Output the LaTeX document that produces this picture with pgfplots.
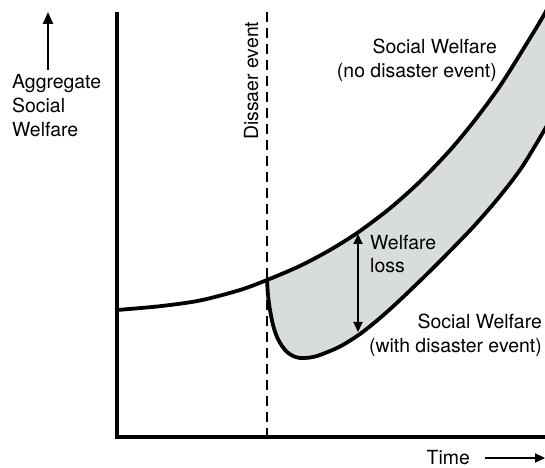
\documentclass[border=0pt]{standalone}
\usepackage{pgfplots}
\pgfplotsset{compat=1.18}
\usepgfplotslibrary{fillbetween}
\usetikzlibrary{arrows.meta}
\usepackage{fontspec}
\setmainfont{TeX Gyre Heros}
\definecolor{bandfill}{RGB}{216,221,219}
\tikzset{lbl/.style={font=\fontsize{19.5}{24}\selectfont, inner sep=0pt}}
\begin{document}
\begin{tikzpicture}
\begin{axis}[
  scale only axis, width=545bp, height=468bp,
  xmin=0, xmax=545, ymin=0, ymax=468, y dir=reverse,
  hide axis, clip=false,
]
% shaded band
\addplot[name path=upA, draw=none, smooth, tension=0.5, forget plot] coordinates {
 (267,280) (300,265.9) (330,250) (358,232.4) (390,208.3) (420,181.5)
 (450,150.2) (475,120) (500,86) (525,46.3) (545,13) (555,-8)};
\addplot[name path=low, draw=none, smooth, tension=0.5, forget plot] coordinates {
 (267,280) (268,295) (270,310) (273,325) (277,337) (282,346) (287,352) (293,356)
 (300,358) (310,357.5) (320,355) (340,346.5) (360,334) (380,318) (400,300) (425,276)
 (450,251) (475,225) (500,196) (522,167) (545,129) (555,110)};
\addplot[fill=bandfill, draw=none, forget plot] fill between[of=upA and low];
% curves
\addplot[black, line width=3.8bp, smooth, tension=0.5] coordinates {
 (117,310) (160,306.2) (200,300.5) (240,290) (267,280) (300,265.9) (330,250)
 (358,232.4) (390,208.3) (420,181.5) (450,150.2) (475,120) (500,86) (525,46.3)
 (545,13) (555,-8)};
\addplot[black, line width=3.8bp, smooth, tension=0.5] coordinates {
 (267,280) (268,295) (270,310) (273,325) (277,337) (282,346) (287,352) (293,356)
 (300,358) (310,357.5) (320,355) (340,346.5) (360,334) (380,318) (400,300) (425,276)
 (450,251) (475,225) (500,196) (522,167) (545,129) (555,110)};
% dashed disaster line
\addplot[black, line width=2.4bp, dash pattern=on 10bp off 6bp] coordinates {(267,12) (267,437)};
% axes
\addplot[black, line width=4.5bp] coordinates {(117,12) (117,437) (550,437)};
% welfare loss arrow
\addplot[black, line width=2bp, {Triangle[width=9bp,length=10bp]}-{Triangle[width=9bp,length=10bp]}] coordinates {(358,234) (358,332)};
% y arrow
\addplot[black, line width=2.5bp, -{Triangle[width=10bp,length=12bp]}] coordinates {(48,70) (48,12)};
% time arrow
\addplot[black, line width=2.2bp, -{Triangle[width=9bp,length=10bp]}] coordinates {(485,458) (545,458)};
% labels
\node[lbl, anchor=base west] at (axis cs:12,89) {Aggregate};
\node[lbl, anchor=base west] at (axis cs:12,113) {Social};
\node[lbl, anchor=base west] at (axis cs:12,137) {Welfare};
\node[lbl, anchor=base east] at (axis cs:497,54) {Social Welfare};
\node[lbl, anchor=base east] at (axis cs:497,78) {(no disaster event)};
\node[lbl, anchor=base east] at (axis cs:542,329) {Social Welfare};
\node[lbl, anchor=base east] at (axis cs:542,353) {(with disaster event)};
\node[lbl, anchor=base west] at (axis cs:370,250) {Welfare};
\node[lbl, anchor=base west] at (axis cs:370,273) {loss};
\node[lbl, anchor=base west, rotate=90] at (axis cs:258,140) {Dissaer event};
\node[lbl, anchor=base east] at (axis cs:470,464) {Time};
\end{axis}
\pgfresetboundingbox
\path[use as bounding box] (0,0) rectangle (545bp,468bp);
\end{tikzpicture}
\end{document}
